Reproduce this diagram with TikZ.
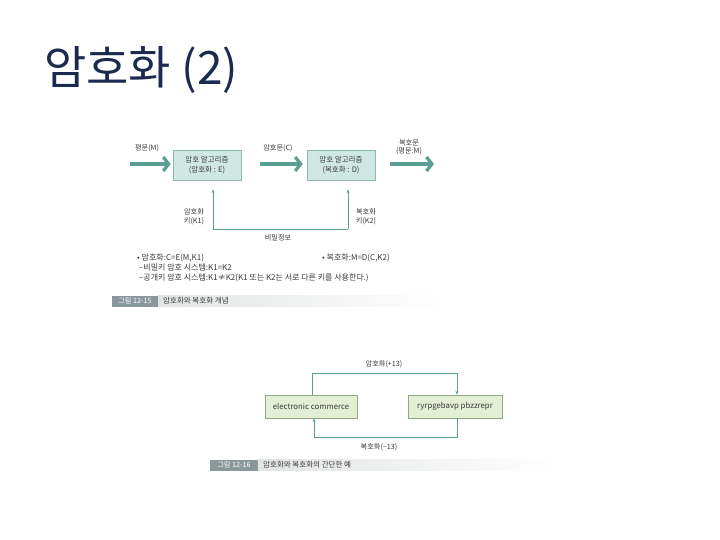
\documentclass[tikz,border=0pt]{standalone}
\usepackage{fontspec}
\setmainfont{Noto Sans CJK KR}
\usetikzlibrary{arrows.meta}
\definecolor{titlec}{HTML}{1B2A4E}
\definecolor{teal}{HTML}{5A9E94}
\definecolor{tealfill}{HTML}{CFE8E3}
\definecolor{tealdraw}{HTML}{8DB8AF}
\definecolor{greenfill}{HTML}{E4EED4}
\definecolor{greendraw}{HTML}{8FA882}
\definecolor{txt}{HTML}{3A3A3A}
\definecolor{capdark}{HTML}{8A979C}
\definecolor{capbar}{HTML}{E2E4E4}
\tikzset{
  lbl/.style={font=\fontsize{7.2}{8.5}\selectfont, text=txt, inner sep=0pt, align=center},
  algbox/.style={draw=tealdraw, fill=tealfill, line width=0.6pt, minimum width=68pt, minimum height=30pt, inner sep=0pt, align=center, font=\fontsize{7.5}{9.5}\selectfont, text=txt},
  txtbox/.style={draw=greendraw, fill=greenfill, line width=0.6pt, minimum width=92pt, minimum height=23pt, inner sep=0pt, font=\fontsize{7.8}{9}\selectfont, text=txt},
  bigarrow/.style={draw=teal, line width=4.5pt, -{Straight Barb[length=5.5pt,width=14pt,line width=3.2pt]}},
  thinline/.style={draw=teal, line width=0.8pt},
  thinarrow/.style={thinline, -{Stealth[length=4pt,width=3pt]}},
  captag/.style={fill=capdark, text=white, inner sep=0pt, minimum height=11pt, font=\fontsize{7.2}{8}\selectfont},
  captext/.style={text=txt, inner sep=0pt, anchor=west, font=\fontsize{7.5}{8}\selectfont},
  bullet/.style={lbl, anchor=west, align=left, font=\fontsize{8}{9}\selectfont}
}
\begin{document}
\begin{tikzpicture}[x=1pt,y=-1pt]
\useasboundingbox[fill=white] (0,0) rectangle (720,540);
% title
\node[anchor=base west, inner sep=0pt, text=titlec, font=\fontsize{46}{50}\selectfont] (title) at (44,85) {암호화 (2)};

% figure 12-15
\node[algbox] (b1) at (207,165) {암호 알고리즘\\(암호화 : E)};
\node[algbox] (b2) at (341,165) {암호 알고리즘\\(복호화 : D)};
\coordinate (inM) at (130,164);
\coordinate (outM) at (434,164);
\draw[bigarrow, shorten >=2pt] (inM) -- (b1.west |- inM);
\draw[bigarrow, shorten <=19pt, shorten >=4pt] (b1.east |- inM) -- (b2.west |- inM);
\draw[bigarrow, shorten <=15pt] (b2.east |- inM) -- (outM);
\node[lbl] (lM) at (147,148) {평문(M)};
\node[lbl] (lC) at (278,148) {암호문(C)};
\node[lbl] (lD) at (409,147.5) {복호문\\(평문:M)};

\coordinate (c1) at (213,229);
\coordinate (c2) at (348,229);
\draw[thinarrow, shorten >=9pt] (c1) -- (c1 |- b1.south);
\draw[thinarrow, shorten >=9pt] (c2) -- (c2 |- b2.south);
\draw[thinline] (c1) -- (c2);
\node[lbl] (k1) at (194,216.5) {암호화\\키(K1)};
\node[lbl] (k2) at (366,216.5) {복호화\\키(K2)};
\node[lbl] (secret) at (278,238) {비밀정보};

\node[bullet] (e1) at (137,258) {• 암호화:C=E(M,K1)};
\node[bullet] (e2) at (322,258) {• 복호화:M=D(C,K2)};
\node[bullet] (e3) at (139,268) {–비밀키 암호 시스템:K1=K2};
\node[bullet] (e4) at (139,278) {–공개키 암호 시스템:K1≠K2(K1 또는 K2는 서로 다른 키를 사용한다.)};

\shade[left color=capbar, right color=white] (157,295.5) rectangle (445,306.5);
\node[captag, minimum width=46pt] (cap1) at (135,301) {그림 12-15};
\node[captext] (cap1t) at (163,301) {암호화와 복호화 개념};

% figure 12-16
\node[txtbox] (b3) at (311,406.5) {electronic commerce};
\node[txtbox, minimum width=94pt] (b4) at (455,406.5) {ryrpgebavp pbzzrepr};
\coordinate (t1) at (312,373);
\coordinate (t2) at (457,373);
\coordinate (u1) at (457,437);
\coordinate (u2) at (314,437);
\draw[thinarrow] (t1 |- b3.north) -- (t1) -- (t2) -- (t2 |- b4.north);
\draw[thinarrow] (u1 |- b4.south) -- (u1) -- (u2) -- (u2 |- b3.south);
\node[lbl] (enc) at (384,364) {암호화(+13)};
\node[lbl] (dec) at (379,447) {복호화(−13)};

\shade[left color=capbar, right color=white] (258,459.5) rectangle (555,470.5);
\node[captag, minimum width=48pt] (cap2) at (234,465) {그림 12-16};
\node[captext] (cap2t) at (263,465) {암호화와 복호화의 간단한 예};
\end{tikzpicture}
\end{document}
